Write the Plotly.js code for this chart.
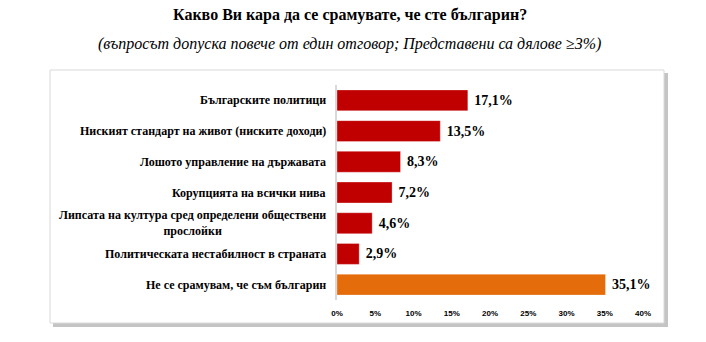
<!DOCTYPE html>
<html>
<head>
<meta charset="utf-8">
<script src="https://cdn.plot.ly/plotly-3.0.1.min.js"></script>
<style>html,body{margin:0;padding:0;background:#fff;}#chart{width:706px;height:342px;}</style>
</head>
<body>
<div id="chart"></div>
<script>
var categories = [
  "Българските политици",
  "Ниският стандарт на живот (ниските доходи)",
  "Лошото управление на държавата",
  "Корупцията на всички нива",
  "Липсата на култура сред определени обществени<br>прослойки",
  "Политическата нестабилност в страната",
  "Не се срамувам, че съм българин"
];
var values = [17.1, 13.5, 8.3, 7.2, 4.6, 2.9, 35.1];
var barColors = ["#C00000","#C00000","#C00000","#C00000","#C00000","#C00000","#E46C0A"];
var tickVals = [0, 5, 10, 15, 20, 25, 30, 35, 40];
var tickLabels = ["0%","5%","10%","15%","20%","25%","30%","35%","40%"];
var titleText = "Какво Ви кара да се срамувате, че сте българин?";
var subtitleText = "(въпросът допуска повече от един отговор; Представени са дялове ≥3%)";

var W = 706, H = 342;
var L = 337, R = 63, T = 85, B = 42;
var pw = W - L - R, ph = H - T - B;
function px(x){ return (x - L) / pw; }
function py(y){ return (H - B - y) / ph; }

var serif = "Liberation Serif, Times New Roman, serif";
var sans = "Liberation Sans, Arial, sans-serif";

var annotations = categories.map(function(c){
  return {x: px(328), xref: "paper", y: c, yref: "y", text: c, showarrow: false,
    xanchor: "right", align: "center",
    font: {family: serif, size: 12, color: "#000", weight: "bold"}};
});
annotations.push({x: px(350), xref: "paper", y: py(15), yref: "paper", text: "<b>" + titleText + "</b>",
  showarrow: false, xanchor: "center", yanchor: "middle", font: {family: serif, size: 16, color: "#000"}});
annotations.push({x: px(349), xref: "paper", y: py(44), yref: "paper", text: "<i>" + subtitleText + "</i>",
  showarrow: false, xanchor: "center", yanchor: "middle", font: {family: serif, size: 16, color: "#000"}});

var shapes = [
  {type: "rect", xref: "paper", yref: "paper", x0: px(53), x1: px(668), y0: py(73), y1: py(327),
   fillcolor: "#C4C4C4", line: {width: 0}, layer: "below"},
  {type: "rect", xref: "paper", yref: "paper", x0: px(50), x1: px(664), y0: py(70), y1: py(323),
   fillcolor: "#FFFFFF", line: {color: "#D9D9D9", width: 1}, layer: "below"}
];

var trace = {
  type: "bar", orientation: "h", y: categories, x: values,
  marker: {color: barColors, line: {color: "rgba(255,255,255,0.3)", width: 1}},
  texttemplate: " %{x:.1f}%", textposition: "outside", cliponaxis: false,
  textfont: {family: serif, size: 14, color: "#000", weight: "bold"},
  hoverinfo: "none"
};

var layout = {
  width: W, height: H,
  margin: {l: L, r: R, t: T, b: B, pad: 0},
  paper_bgcolor: "#fff", plot_bgcolor: "rgba(0,0,0,0)",
  separators: ", ",
  showlegend: false,
  bargap: 0.32,
  xaxis: {range: [0, 40], tickvals: tickVals, ticktext: tickLabels, showgrid: false, zeroline: false,
    showline: false, ticks: "", ticklabelstandoff: 7,
    tickfont: {family: sans, size: 8, color: "#000", weight: "bold"}, fixedrange: true},
  yaxis: {autorange: "reversed", showticklabels: false, ticks: "", showgrid: false, zeroline: false,
    showline: true, linecolor: "#D9D9D9", linewidth: 2, fixedrange: true},
  annotations: annotations,
  shapes: shapes
};

Plotly.newPlot("chart", [trace], layout, {displayModeBar: false, staticPlot: true});
</script>
</body>
</html>
